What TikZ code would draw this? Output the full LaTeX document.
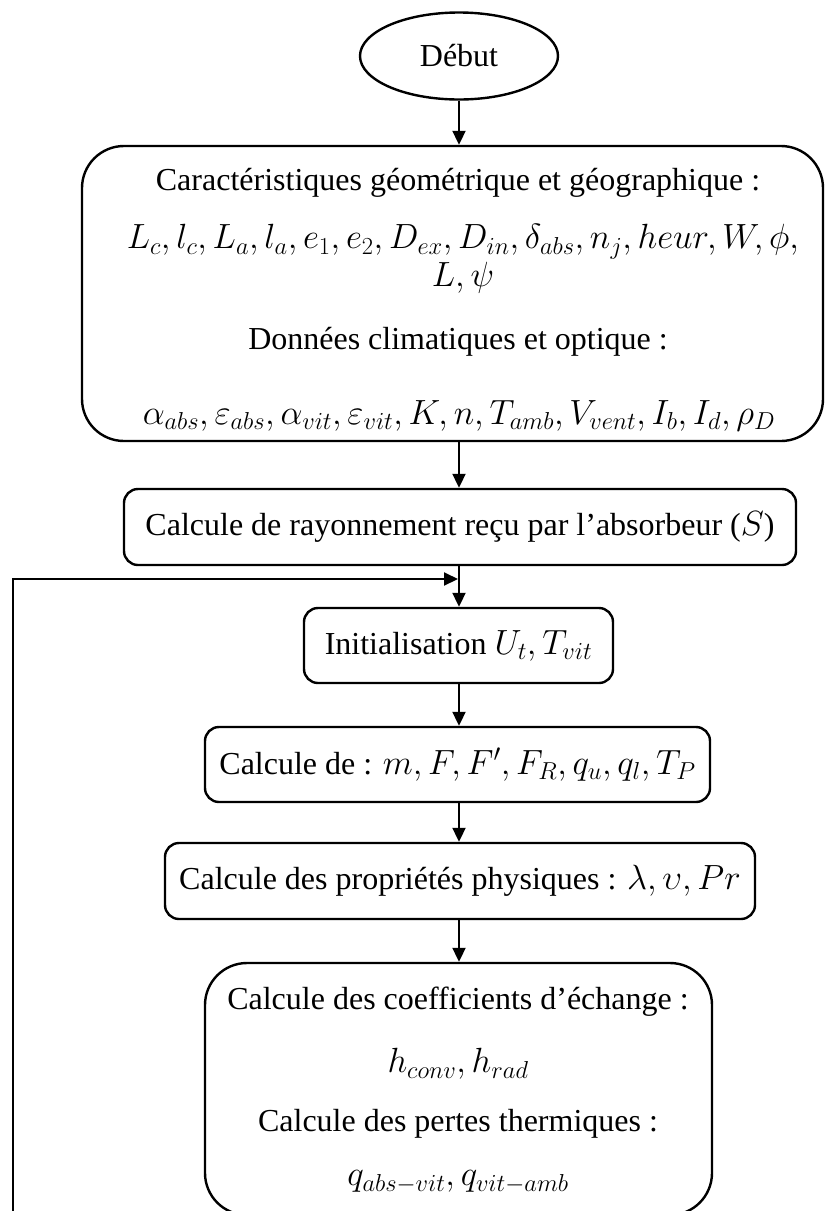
\documentclass[tikz,border=0pt]{standalone}
\usepackage{fix-cm}
\usepackage{fontspec}
\setmainfont{Liberation Serif}
\usetikzlibrary{arrows.meta,shapes.geometric}
\newcommand{\mth}[1]{{\fontsize{35}{40}\selectfont$#1$}}
\begin{document}
\begin{tikzpicture}[x=1pt,y=-1pt,
  every node/.style={font=\fontsize{32}{38}\selectfont},
  box/.style={draw,line width=2.4pt,rounded corners=14pt,inner sep=0pt},
  bigbox/.style={draw,line width=2.4pt,rounded corners=42pt,inner sep=0pt},
  arr/.style={line width=2pt,-{Triangle[length=14pt,width=13pt]}},
  txt/.style={inner sep=0pt,anchor=center}]
\clip (0,0) rectangle (825,1211);
\node[draw,ellipse,line width=2.4pt,minimum width=198pt,minimum height=87pt,inner sep=0pt] (start) at (459,56) {Début};
\node[bigbox,minimum width=741pt,minimum height=295pt] (data) at (452.5,293.5) {};
\node[txt] (t1) at (458,183) {Caractéristiques géométrique et géographique :};
\node[txt,align=center,font=\fontsize{35}{40}\selectfont] (t2) at (463,259) {$L_c, l_c, L_a, l_a, e_1, e_2, D_{ex}, D_{in}, \delta_{abs}, n_j, heur, W, \phi,$\\[-2pt]$L, \psi$};
\node[txt] (t4) at (458,342) {Données climatiques et optique :};
\node[txt] (t5) at (459,416) {\mth{\alpha_{abs}, \varepsilon_{abs}, \alpha_{vit}, \varepsilon_{vit}, K, n, T_{amb}, V_{vent}, I_b, I_d, \rho_D}};
\node[box,minimum width=672pt,minimum height=76pt] (ray) at (460,527) {Calcule de rayonnement reçu par l’absorbeur (\mth{S})};
\node[box,minimum width=309pt,minimum height=75pt] (init) at (458.5,645.5) {Initialisation \mth{U_t, T_{vit}}};
\node[box,minimum width=505pt,minimum height=75pt] (calc) at (457.5,764.5) {Calcule de : \mth{m, F, F', F_R, q_u, q_l, T_P}};
\node[box,minimum width=590pt,minimum height=76pt] (prop) at (460,881) {Calcule des propriétés physiques : \mth{\lambda, \upsilon, Pr}};
\node[bigbox,minimum width=507pt,minimum height=252pt] (last) at (458.5,1089) {};
\node[txt] (l1) at (458,1002) {Calcule des coefficients d’échange :};
\node[txt] (l2) at (458,1064) {\mth{h_{conv}, h_{rad}}};
\node[txt] (l3) at (458,1124) {Calcule des pertes thermiques :};
\node[txt] (l4) at (458,1182) {\mth{q_{abs-vit}, q_{vit-amb}}};
\coordinate (junc) at (458,579);
\coordinate (loopc) at (13,579);
\draw[arr] (start.south) -- (start.south |- data.north);
\draw[arr] (start.south |- data.south) -- (start.south |- ray.north);
\draw[arr] (start.south |- ray.south) -- (start.south |- init.north);
\draw[arr] (start.south |- init.south) -- (start.south |- calc.north);
\draw[arr] (start.south |- calc.south) -- (start.south |- prop.north);
\draw[arr] (start.south |- prop.south) -- (start.south |- last.north);
\draw[arr] (last.south) -- ++(0,40) -| (loopc) -- (junc);
\end{tikzpicture}
\end{document}
